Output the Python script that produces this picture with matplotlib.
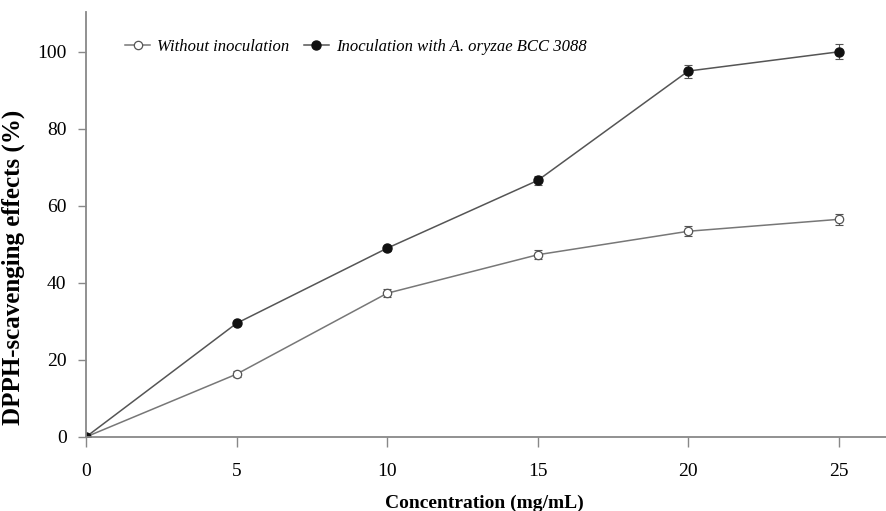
import matplotlib.pyplot as plt

conc = [0, 5, 10, 15, 20, 25]
without = [0, 16.3, 37.3, 47.3, 53.4, 56.5]
without_err = [0, 0.8, 1.0, 1.2, 1.3, 1.5]
inoc = [0, 29.5, 49.0, 66.6, 95.0, 100.0]
inoc_err = [0, 0.5, 0.7, 1.1, 1.7, 1.9]

plt.rcParams['font.family'] = ['Liberation Serif', 'DejaVu Serif']

fig = plt.figure(figsize=(8.87, 5.11), dpi=100)
ax = fig.add_axes([0.097, 0.145, 0.903, 0.832])

# error bars first, then lines + markers (legend shows no error bars)
ax.errorbar(conc, without, yerr=without_err, fmt='none',
            ecolor='#555555', elinewidth=0.8, capsize=3, capthick=0.8)
ax.errorbar(conc, inoc, yerr=inoc_err, fmt='none',
            ecolor='#555555', elinewidth=0.8, capsize=3, capthick=0.8)
ax.plot(conc, without, color='#777777', lw=1.1, marker='o', ms=6,
        mfc='white', mec='#555555', mew=0.9, label='Without inoculation')
ax.plot(conc, inoc, color='#555555', lw=1.1, marker='o', ms=6.5,
        mfc='#111111', mec='#111111', label='Inoculation with A. oryzae BCC 3088')

ax.set_xlim(0, 26.6)
ax.set_ylim(0, 110.4)
ax.set_xticks([0, 5, 10, 15, 20, 25])
ax.set_yticks([0, 20, 40, 60, 80, 100])
ax.tick_params(labelsize=14, color='#888888', width=1)
ax.tick_params(axis='x', length=7, pad=12)
ax.tick_params(axis='y', length=6, pad=8)
for s in ['top', 'right']:
    ax.spines[s].set_visible(False)
for s in ['left', 'bottom']:
    ax.spines[s].set_color('#888888')
    ax.spines[s].set_linewidth(1.3)

ax.set_xlabel('Concentration (mg/mL)', fontsize=14, fontweight='bold')
ax.set_ylabel('DPPH-scavenging effects (%)', fontsize=18, fontweight='bold')
ax.xaxis.set_label_coords(0.497, -0.136)
ax.yaxis.set_label_coords(-0.076, 0.398)

ax.legend(loc='upper left', bbox_to_anchor=(0.03, 0.972), ncol=2, frameon=False,
          prop={'style': 'italic', 'size': 12}, handlelength=1.5,
          handletextpad=0.4, columnspacing=0.9)

fig.savefig('out.png', dpi=100)
